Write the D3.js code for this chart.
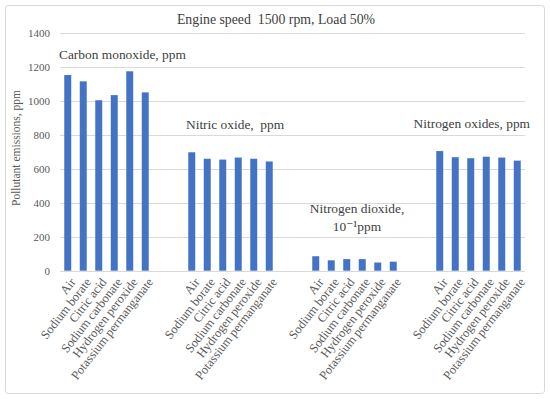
<!DOCTYPE html>
<html>
<head>
<meta charset="utf-8">
<script src="https://cdn.jsdelivr.net/npm/d3@7"></script>
<style>
  html, body { margin: 0; padding: 0; background: #fff; }
  svg { display: block; }
</style>
</head>
<body>
<svg id="chart" width="550" height="399"></svg>
<script>
// ---- data ----
const additives = ["Air", "Sodium borate", "Citric acid", "Sodium carbonate", "Hydrogen peroxide", "Potassium permanganate"];
const pollutants = ["Carbon monoxide, ppm", "Nitric oxide,  ppm", "Nitrogen dioxide, 10\u207B\u00B9ppm", "Nitrogen oxides, ppm"];
const coValues  = [1150, 1113, 1002, 1032, 1172, 1048];
const noValues  = [696, 658, 653, 665, 658, 642];
const no2Values = [85, 61, 68, 68, 48, 53];
const noxValues = [703, 667, 661, 670, 665, 647];
const yTicks = [0, 200, 400, 600, 800, 1000, 1200, 1400];
const title = "Engine speed  1500 rpm, Load 50%";
const yTitle = "Pollutant emissions, ppm";

const seriesValues = [coValues, noValues, no2Values, noxValues];
const gapSlots = 2;
const FONT = '"Liberation Serif", "DejaVu Serif", serif';

// build category slots (6 bars per group, 2 blank slots between groups)
const slots = [];
const bars = [];
seriesValues.forEach((vals, g) => {
  vals.forEach((v, i) => {
    const key = "g" + g + "-" + i;
    slots.push(key);
    bars.push({ key, label: additives[i], value: v, group: g });
  });
  if (g < seriesValues.length - 1) {
    for (let k = 0; k < gapSlots; k++) slots.push("gap" + g + "-" + k);
  }
});
const labelOf = Object.fromEntries(bars.map(b => [b.key, b.label]));

// ---- layout ----
const svg = d3.select("#chart");
const plot = { left: 60, right: 525, top: 32.5, bottom: 270.7 };

// outer border
svg.append("rect")
  .attr("x", 5.5).attr("y", 5.5).attr("width", 539).attr("height", 388)
  .attr("rx", 3)
  .attr("fill", "#fff").attr("stroke", "#d9d9d9").attr("stroke-width", 1);

const x = d3.scaleBand().domain(slots).range([plot.left, plot.right]).paddingInner(0.55).paddingOuter(0.275);
const y = d3.scaleLinear().domain([0, 1400]).range([plot.bottom, plot.top]);

// grid lines
svg.append("g").selectAll("line").data(yTicks.filter(t => t > 0)).join("line")
  .attr("x1", plot.left).attr("x2", plot.right)
  .attr("y1", d => Math.round(y(d)) + 0.5).attr("y2", d => Math.round(y(d)) + 0.5)
  .attr("stroke", "#d9d9d9").attr("stroke-width", 1);

// y axis
const yAxis = svg.append("g").attr("transform", `translate(${plot.left},0)`)
  .call(d3.axisLeft(y).tickValues(yTicks).tickSize(0).tickPadding(10).tickFormat(d3.format("d")));
yAxis.select(".domain").remove();
yAxis.selectAll("text").attr("fill", "#595959").attr("font-size", 11);

// bars
svg.append("g").selectAll("rect").data(bars).join("rect")
  .attr("x", d => x(d.key))
  .attr("width", x.bandwidth())
  .attr("y", d => y(d.value))
  .attr("height", d => y(0) - y(d.value))
  .attr("fill", "#4472C4");

// x axis
const xAxis = svg.append("g").attr("transform", `translate(0,${Math.round(plot.bottom) + 0.5})`)
  .call(d3.axisBottom(x).tickSize(0).tickPadding(6).tickFormat(k => labelOf[k] || ""));
xAxis.select(".domain").attr("stroke", "#d9d9d9").attr("d", `M${plot.left},0H${plot.right}`);
xAxis.selectAll(".tick text")
  .attr("fill", "#595959")
  .attr("font-size", 12.5)
  .attr("text-anchor", "end")
  .attr("dy", "0.35em")
  .attr("transform", "translate(5,8) rotate(-52)")
  .attr("x", 0).attr("y", 0);

// title
svg.append("text")
  .attr("x", 276).attr("y", 24)
  .attr("text-anchor", "middle")
  .attr("fill", "#404040")
  .attr("font-size", 13.8)
  .attr("xml:space", "preserve")
  .text(title);

// y title
svg.append("text")
  .attr("transform", `translate(20,148) rotate(-90)`)
  .attr("text-anchor", "middle")
  .attr("fill", "#595959")
  .attr("font-size", 11.5)
  .text(yTitle);

// group annotations
const annot = svg.append("g");
annot.append("text").attr("x", 59).attr("y", 59).text(pollutants[0]);
annot.append("text").attr("x", 186).attr("y", 129).attr("xml:space", "preserve").text(pollutants[1]);
const no2Parts = pollutants[2].split(", ");
annot.append("text").attr("x", 357).attr("y", 213).attr("text-anchor", "middle").text(no2Parts[0] + ",");
annot.append("text").attr("x", 357).attr("y", 231).attr("text-anchor", "middle").text(no2Parts[1]);
annot.append("text").attr("x", 530).attr("y", 128).attr("text-anchor", "end").text(pollutants[3]);
annot.selectAll("text").attr("fill", "#404040").attr("font-size", 13.4);

// apply font to every text element
svg.selectAll("text").attr("font-family", FONT).style("font-family", FONT);
</script>
</body>
</html>
